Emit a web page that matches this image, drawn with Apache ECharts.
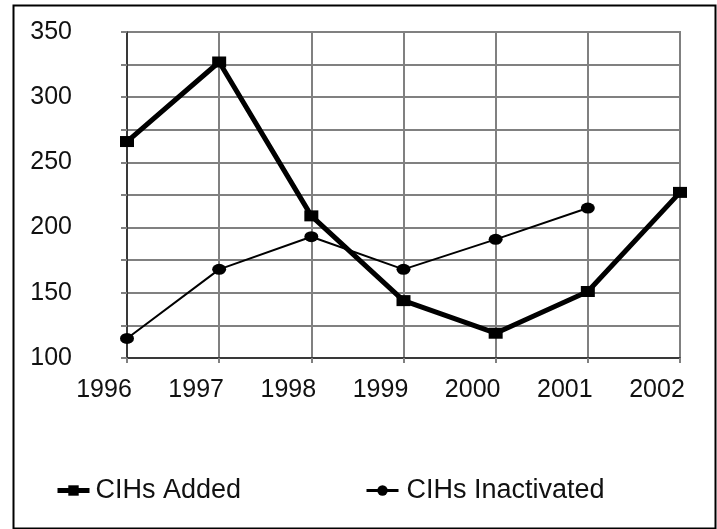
<!DOCTYPE html>
<html>
<head>
<meta charset="utf-8">
<script src="https://cdn.jsdelivr.net/npm/echarts@6/dist/echarts.min.js"></script>
<style>html,body{margin:0;padding:0;background:#fff;}#chart{width:717px;height:529px;}</style>
</head>
<body>
<div id="chart"></div>
<script>
var years = ['1996','1997','1998','1999','2000','2001','2002'];
var cihsAdded = [266, 327, 209, 144, 119, 151, 227];
var cihsInactivated = [115, 168, 193, 168, 191, 215, null];
var seriesNames = ['CIHs Added', 'CIHs Inactivated'];

var FONT = '"Liberation Sans", Arial, sans-serif';
var chart = echarts.init(document.getElementById('chart'));
chart.setOption({
  animation: false,
  backgroundColor: '#fff',
  graphic: [{
    type: 'rect', left: 11, top: 3, z: 100,
    shape: {x: 0, y: 0, width: 702, height: 523},
    style: {fill: 'none', stroke: '#000', lineWidth: 2}
  }],
  grid: {left: 127, right: 37, top: 32, bottom: 171, show: true, borderColor: '#222', borderWidth: 1.5, backgroundColor: 'transparent'},
  legend: [{
    data: [{name: seriesNames[0], lineStyle: {width: 5, color: '#000'}, itemStyle: {color: '#000'}}],
    left: 55, top: 477, padding: 0,
    itemWidth: 32, itemHeight: 13,
    textStyle: {fontFamily: FONT, fontSize: 27, color: '#111', padding: [0, 0, 0, 1]}
  }, {
    data: [{name: seriesNames[1], lineStyle: {width: 3, color: '#000'}, itemStyle: {color: '#000'}}],
    left: 365, top: 477, padding: 0,
    itemWidth: 32, itemHeight: 13,
    textStyle: {fontFamily: FONT, fontSize: 27, color: '#111', padding: [0, 0, 0, 3]}
  }],
  xAxis: {
    type: 'category', data: years, boundaryGap: false,
    axisLine: {lineStyle: {color: '#222', width: 1.5}},
    axisTick: {show: true, length: 5, alignWithLabel: true, lineStyle: {color: '#808080', width: 2}},
    splitLine: {show: true, lineStyle: {color: '#808080', width: 2}},
    axisLabel: {fontFamily: FONT, fontSize: 25, color: '#111', margin: 20, align: 'center', padding: [0, 46, 0, 0]}
  },
  yAxis: {
    type: 'value', min: 100, max: 350, interval: 25,
    axisLine: {show: true, lineStyle: {color: '#222', width: 1.5}},
    axisTick: {show: true, length: 6, lineStyle: {color: '#808080', width: 2}},
    splitLine: {show: true, lineStyle: {color: '#808080', width: 2}},
    axisLabel: {fontFamily: FONT, fontSize: 25, color: '#111', margin: 55,
      formatter: function (v) { return v % 50 === 0 ? String(v) : ''; }}
  },
  series: [{
    name: seriesNames[0], type: 'line', data: cihsAdded,
    symbol: 'rect', symbolSize: [14, 11],
    lineStyle: {color: '#000', width: 5},
    itemStyle: {color: '#000'}, z: 5
  }, {
    name: seriesNames[1], type: 'line', data: cihsInactivated,
    symbol: 'circle', symbolSize: [14, 11],
    lineStyle: {color: '#000', width: 2},
    itemStyle: {color: '#000'}, z: 4
  }]
});
</script>
</body>
</html>
